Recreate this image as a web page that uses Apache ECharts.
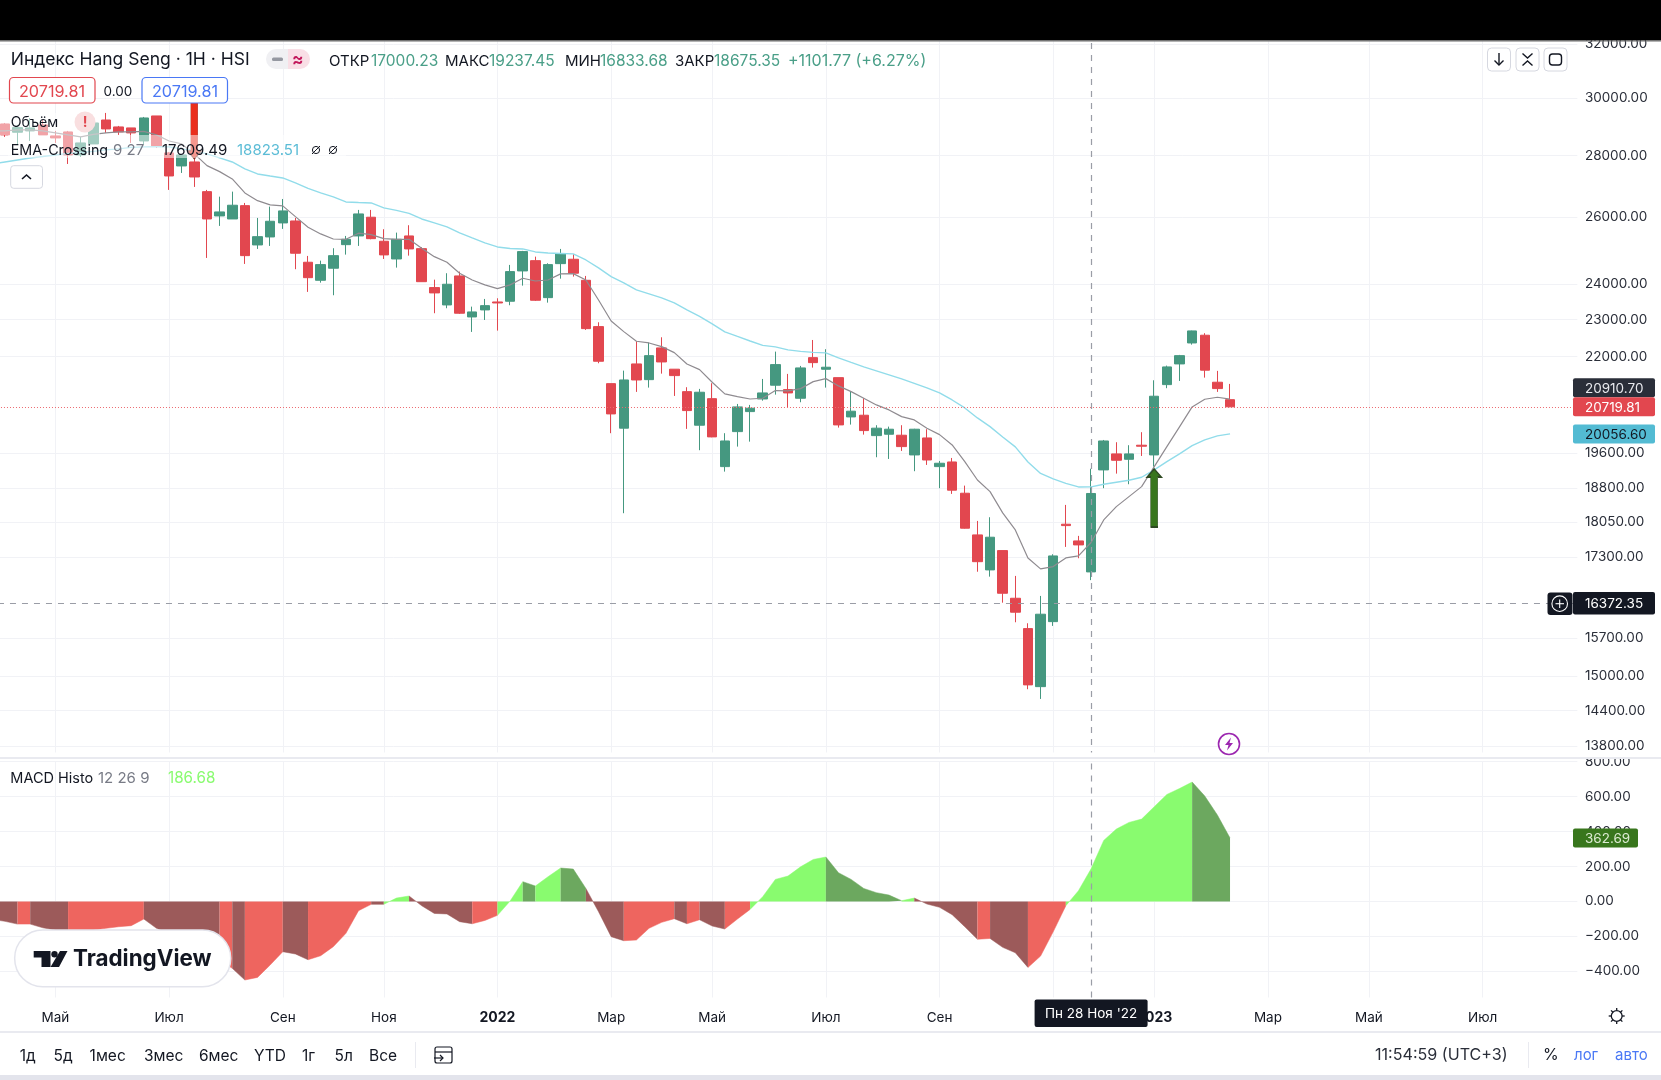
<!DOCTYPE html>
<html>
<head>
<meta charset="utf-8">
<title>Hang Seng</title>
<style>
html, body { margin: 0; padding: 0; background: #fff; }
#myChart { width: 1661px; height: 1080px; }
</style>
<script src="https://cdn.jsdelivr.net/npm/echarts@6/dist/echarts.min.js"></script>
</head>
<body>
<div id="myChart"></div>
<script>
// weekly candles: open, close, low, high (first row sits just off the left edge)
const candles = [
    [29000,28900,28800,29050],[29077,28698,28628,29111],[28790,28949,28355,29043],[28835,28939,28490,29286],
    [29043,28698,28698,29215],[28663,28593,28423,28835],[28800,28017,27716,28835],[28017,28423,27949,28628],
    [28389,29111,28389,29286],[29215,28904,28766,29463],[28973,28800,28698,29008],[28939,28766,28423,28939],
    [28490,29286,28355,29322],[29357,28321,28254,29357],[28085,27320,26867,28118],[27650,28017,27419,28050],
    [27782,27287,26964,27916],[26812,25948,24764,26867],[26042,26168,25733,26651],[25948,26379,25948,26812],
    [26366,24833,24587,26451],[25153,25404,25033,25980],[25395,25877,25123,26335],[25825,26200,25641,26577],
    [25886,24904,24432,25980],[24637,24186,23777,24824],[24110,24567,24042,24684],[24461,24833,23682,25054],
    [25162,25324,24863,25426],[25426,26105,25123,26231],[26002,25343,25324,26231],[25264,24854,24734,25631],
    [24734,25324,24479,25527],[25426,25033,24833,25754],[25042,24070,24070,25084],[23900,23748,23177,24128],
    [23408,23996,23316,24315],[24236,23177,23157,24362],[23074,23213,22664,23361],[23269,23389,22990,23577],
    [23492,23464,22699,23596],[23512,24362,23400,24558],[24382,24953,23956,24974],[24684,23540,23520,24803],
    [23614,24567,23473,24607],[24596,24893,24157,25033],[24725,24315,24217,24875],[24110,22753,22718,24236],
    [22808,21881,21829,22927],[21302,20543,20074,21302],[20195,21396,18239,21637],[21811,21396,21092,22411],
    [21404,22029,21201,22374],[22234,21863,21559,22519],[21674,21508,20990,21674],[21099,20625,20178,21211],
    [20267,21084,19669,21168],[20922,19985,19977,21312],[19286,19888,19171,20074],[20112,20716,19754,20790],
    [20600,20684,19872,20766],[20914,21066,20872,21422],[21262,21793,21023,22135],[21150,21066,20709,21552],
    [20932,21707,20832,21759],[21976,21845,21715,22446],[21673,21725,21201,22199],[21456,20274,20209,21456],
    [20469,20610,20282,21092],[20511,20137,20040,20932],[20016,20195,19504,20267],[20049,20170,19464,20233],
    [20025,19754,19652,20267],[19558,20170,19180,20180],[19960,19440,19325,20170],[19286,19364,18794,19417],
    [19394,18749,18666,19487],[18681,17914,17906,18852],[17771,17210,17004,18071],[17041,17722,16904,18151],
    [17440,16571,16385,17440],[16472,16199,16005,16919],[15884,14848,14771,15986],[14817,16160,14600,16518],
    [16017,17329,15935,17364],[18000,17970,17517,18421],[17643,17559,17281,17750],[17000.23,18675.35,16833.68,19237.45],
    [19210,19888,18794,19912],[19582,19433,19125,19858],[19456,19582,18883,19787],[19787,19763,19534,20098],
    [19558,20983,19286,21388],[21277,21733,21186,21767],[21811,22029,21371,22048],[22366,22691,22321,22699],
    [22574,21648,21456,22629],[21338,21176,21092,21630],[20897,20719.81,20710,21295]
]
const emaFast = [
    28835,28835,28870,28870,28835,28766,28698,28628,28715,28766,28800,28800,28818,28698,28490,28389,28051,27660,
    27462,27222,26771,26523,26388,26357,26020,25693,25487,25333,25324,25509,25466,25343,25324,25324,25054,24803,
    24637,24315,24119,23977,23871,23977,24169,24090,24119,24295,24304,24119,23548,22963,22672,22411,22366,22268,
    22109,21811,21663,21338,21041,20973,20914,20932,21125,21117,21175,21353,21430,21244,21099,20932,20766,20642,
    20477,20395,20195,20040,19794,19401,18980,18717,18246,17878,17287,17062,17109,17287,17329,17609.49,18092,
    18384,18605,18829,19286,19754,20226,20716,20907,20957,20910.7
]
const emaSlow = [
    27716,27782,27848,27916,27966,28017,28068,28102,28136,28186,28220,28271,28288,28298,28288,28220,28152,28051,
    27916,27782,27551,27386,27320,27255,27092,26915,26771,26642,26482,26466,26451,26294,26215,26121,25948,25825,
    25702,25518,25364,25213,25093,25048,25033,24943,24913,24898,24884,24704,24470,24216,24034,23833,23719,23605,
    23464,23269,23088,22881,22664,22541,22419,22300,22260,22181,22141,22114,22101,21968,21850,21733,21630,21526,
    21422,21307,21193,21066,20889,20691,20444,20233,19984,19747,19394,19130,19003,18901,18822,18823.51,18883,18928,
    18973,19042,19210,19401,19582,19777,19912,20009,20056.6
]
const macdHisto = [
    -103,-114,-130,-130,-151,-164,-164,-164,-164,-154,-145,-139,-101,-154,-183,-221,-259,-297,-336,-383,-450,-435,
    -364,-288,-301,-334,-311,-259,-183,-53,-17,-17,19,31,-25,-69,-72,-116,-128,-109,-80,2,113,88,141,191,185,74,-59,
    -202,-225,-221,-154,-120,-99,-128,-105,-141,-158,-101,-46,27,126,145,198,240,254,164,126,74,50,36,4,19,-15,-34,
    -76,-145,-217,-212,-263,-294,-378,-313,-174,-25,61,186.68,349,414,452,471,542,612,646,683,603,494,362.69
]
// phase of each stretch of the histogram and how many weeks it lasts
const macdPhases = ['fallDown','down','fallDown','down','fallDown','down','fallDown','down','fallDown','down','fallDown','up','fallDown','down','up','fallUp','up','fallUp','fallDown','down','fallDown','down','fallDown','down','up','fallUp','up','fallDown','down','fallDown','down','up','fallUp']
const macdLengths = [2,1,3,6,6,1,1,3,2,5,1,2,5,2,2,1,2,2,3,4,1,1,2,2,6,6,1,5,1,3,3,10,3]
const phaseColors = { down: '#ee655f', fallDown: '#9c5a5a', up: '#89fb6f', fallUp: '#6ca85f' }

const priceTicks = [32000,30000,28000,26000,24000,23000,22000,19600,18800,18050,17300,15700,15000,14400,13800]
const macdTicks = [800,600,400,200,0,-200,-400]
const monthIndexes = [5,14,23,31,40,49,57,66,75,84,92,101,109,118]
const monthNames = ['Май','Июл','Сен','Ноя','2022','Мар','Май','Июл','Сен','Ноя','2023','Мар','Май','Июл']

const lastPrice = 20719.81
const crossPrice = 16372.35
const crossIndex = 87
const buyIndex = 92
const buyPrice = 19233
const sellIndex = 16
const sellPrice = 27882

const weeks = []
for(let i = 0; i < 126; i++){
    weeks.push(new Date(Date.UTC(2021, 2, 29 + i * 7)).toISOString().slice(0, 10))
}

const font = 'Inter'
const isMonth = index => monthIndexes.indexOf(index) >= 0
const gridLine = '#f1f2f6'

const myChart = echarts.init(document.getElementById('myChart'))

// one area series per stretch so the colours never join across a gap
let macdSeries = []
let from = 0
macdLengths.forEach((len, k) => {
    const data = macdHisto.map((v, i) => (i >= from && i <= from + len) ? v : null)
    const color = phaseColors[macdPhases[k]]
    macdSeries.push({
        type: 'line',
        xAxisIndex: 1,
        yAxisIndex: 1,
        data: data,
        showSymbol: false,
        connectNulls: false,
        lineStyle: { color: color, width: 0.5 },
        areaStyle: { color: color, opacity: 1, origin: 0 },
        silent: true,
        z: 2
    })
    from += len
})

const dashed = { color: '#9a9da6', type: [6, 6], width: 1.2 }

const option = {
    animation: false,
    backgroundColor: '#fff',
    textStyle: { fontFamily: font },
    grid: [
        { left: -14.03, right: 83.65, top: 41, height: 716, outerBoundsMode: 'none' },
        { left: -14.03, right: 83.65, top: 761.6, height: 235.9, outerBoundsMode: 'none' }
    ],
    xAxis: [0, 1].map(i => ({
        type: 'category',
        gridIndex: i,
        data: weeks,
        boundaryGap: true,
        axisLine: { show: false },
        axisTick: { show: false, alignWithLabel: true },
        splitLine: { show: true, alignWithLabel: true, interval: index => isMonth(index), lineStyle: { color: gridLine, width: 1 } },
        axisLabel: {
            show: i === 1,
            interval: index => isMonth(index),
            margin: 13,
            hideOverlap: false,
            color: '#131722',
            fontSize: 13.5,
            fontFamily: font,
            formatter: (value, index) => {
                const name = monthNames[monthIndexes.indexOf(index)]
                return /^\d/.test(name) ? `{year|${name}}` : name
            },
            rich: { year: { fontWeight: 'bold', fontSize: 14, fontFamily: font, color: '#131722' } }
        }
    })),
    yAxis: [
        {
            type: 'log',
            gridIndex: 0,
            position: 'right',
            min: 13619,
            max: 32115,
            axisLine: { show: false },
            axisTick: { show: false, customValues: priceTicks },
            splitLine: { show: true, lineStyle: { color: gridLine, width: 1 } },
            axisLabel: {
                customValues: priceTicks,
                margin: 7.65,
                padding: [6, 0, 0, 0],
                color: '#2a2e39',
                fontSize: 13.5,
                fontFamily: font,
                formatter: value => Number(value).toFixed(2)
            }
        },
        {
            type: 'value',
            gridIndex: 1,
            position: 'right',
            min: -550,
            max: 800,
            axisLine: { show: false },
            axisTick: { show: false, customValues: macdTicks },
            splitLine: { show: true, lineStyle: { color: gridLine, width: 1 } },
            axisLabel: {
                customValues: macdTicks,
                margin: 7.65,
                padding: [6, 0, 0, 0],
                color: '#2a2e39',
                fontSize: 13.5,
                fontFamily: font,
                formatter: value => Number(value).toFixed(2).replace('-', '\u2212')
            }
        }
    ],
    series: [
        {
            type: 'candlestick',
            xAxisIndex: 0,
            yAxisIndex: 0,
            data: candles,
            barWidth: 10,
            itemStyle: { color: '#459880', color0: '#e2474f', borderColor: '#459880', borderColor0: '#e2474f', borderWidth: 1 },
            silent: true,
            z: 2,
            markLine: {
                silent: true,
                symbol: 'none',
                animation: false,
                label: { show: false },
                data: [
                    { yAxis: lastPrice, lineStyle: { color: '#ec6a70', type: [1, 2], width: 1 } },
                    { yAxis: crossPrice, lineStyle: dashed },
                    { xAxis: weeks[crossIndex], lineStyle: dashed }
                ]
            },
            markPoint: {
                silent: true,
                animation: false,
                label: { show: false },
                data: [
                    {
                        coord: [weeks[buyIndex], buyPrice],
                        symbol: 'path://M7 0 L14 8 L10.5 8 L10.5 58 L3.5 58 L3.5 8 L0 8 Z',
                        symbolSize: [14, 58],
                        symbolOffset: [0, '50%'],
                        itemStyle: { color: '#38761d', borderColor: '#2e4a22', borderWidth: 1 }
                    },
                    {
                        coord: [weeks[sellIndex], sellPrice],
                        symbol: 'path://M3.5 0 L10.5 0 L10.5 58 L14 58 L7 66 L0 58 L3.5 58 Z',
                        symbolSize: [14, 66],
                        symbolOffset: [0, '-50%'],
                        itemStyle: { color: '#ea2e1c', borderColor: '#7a3326', borderWidth: 0.6 }
                    }
                ]
            }
        },
        {
            type: 'line',
            xAxisIndex: 0,
            yAxisIndex: 0,
            data: emaFast,
            showSymbol: false,
            lineStyle: { color: '#8f8b90', width: 1.2 },
            silent: true,
            z: 3
        },
        {
            type: 'line',
            xAxisIndex: 0,
            yAxisIndex: 0,
            data: emaSlow,
            showSymbol: false,
            lineStyle: { color: '#91dcea', width: 1.4 },
            silent: true,
            z: 3
        },
        ...macdSeries,
        {
            type: 'line',
            xAxisIndex: 1,
            yAxisIndex: 1,
            data: [],
            silent: true,
            z: 3,
            markLine: {
                silent: true,
                symbol: 'none',
                animation: false,
                label: { show: false },
                data: [{ xAxis: weeks[crossIndex], lineStyle: dashed }]
            }
        }
    ]
}

myChart.setOption(option)

// chart chrome around the plot
const TOP = 100
function rect(x, y, w, h, fill, extra){
    return Object.assign({
        type: 'rect', silent: true, z: TOP,
        shape: { x, y, width: w, height: h, r: (extra && extra.r) || 0 },
        style: { fill, stroke: (extra && extra.stroke) || null, lineWidth: (extra && extra.lw) || 1 }
    }, extra && extra.z ? { z: extra.z } : {})
}
function text(x, y, str, color, size, extra){
    return {
        type: 'text', silent: true, z: TOP + 2, x, y: y + 1.2,
        style: Object.assign({
            text: str, fill: color, fontSize: size || 15.5, fontFamily: font,
            verticalAlign: 'middle', align: 'left'
        }, extra || {})
    }
}
function poly(points, stroke, width){
    return { type: 'polyline', silent: true, z: TOP + 2, shape: { points }, style: { stroke, fill: null, lineWidth: width || 1.4 } }
}
function fill(points, color){
    return { type: 'polygon', silent: true, z: TOP + 2, shape: { points }, style: { fill: color } }
}
function circle(cx, cy, r, fillColor, stroke, width){
    return { type: 'circle', silent: true, z: TOP + 1, shape: { cx, cy, r }, style: { fill: fillColor, stroke: stroke || null, lineWidth: width || 1 } }
}

const dark = '#131722'
const green = '#4a9f88'
const yOf = v => myChart.convertToPixel({ yAxisIndex: 0 }, v)
const yMacd = v => myChart.convertToPixel({ yAxisIndex: 1 }, v)
const xCross = myChart.convertToPixel({ xAxisIndex: 0 }, weeks[crossIndex])

const els = [
    // fade under the legend rows
    rect(0, 113, 100, 22, 'rgba(255,255,255,0.5)'),
    rect(8, 135, 338, 23, 'rgba(255,255,255,0.5)'),
    // separators and bands
    rect(0, 752.5, 1661, 5, '#fff'),
    rect(0, 757, 1661, 2, '#e9eaf0'),
    rect(0, 1031, 1661, 2, '#e9eaf0'),
    rect(0, 1075, 1661, 5, '#e3e4ec'),
    rect(0, 0, 1661, 40.5, '#000'),
    rect(0, 40.5, 1661, 1, '#6a6a6a'),

    text(10.7, 59, 'Индекс Hang Seng · 1H · HSI', dark, 17.5),
    rect(266, 49, 22, 20, '#f0f0f3', { r: [10, 0, 0, 10] }),
    rect(288, 49, 22, 20, '#f9dfe6', { r: [0, 10, 10, 0] }),
    rect(272, 57.5, 11, 3.5, '#9598a1', { r: 1.5 }),
    text(292, 59, '≈', '#c2185b', 17, { fontWeight: 'bold' }),

    text(329, 60, 'ОТКР', dark, 15),
    text(371, 60, '17000.23', green, 15.5),
    text(445, 60, 'МАКС', dark, 15),
    text(489, 60, '19237.45', green, 15.5),
    text(565, 60, 'МИН', dark, 15),
    text(600, 60, '16833.68', green, 15.5),
    text(675, 60, 'ЗАКР', dark, 15),
    text(714, 60, '18675.35', green, 15.5),
    text(788, 60, '+1101.77 (+6.27%)', green, 16),

    rect(9.5, 77.5, 85.5, 25.5, '#fff', { r: 4, stroke: '#e2474f', lw: 1.2 }),
    text(52, 91, '20719.81', '#e2474f', 16.2, { align: 'center' }),
    text(118, 91, '0.00', dark, 13.5, { align: 'center' }),
    rect(142, 77.5, 85.5, 25.5, '#fff', { r: 4, stroke: '#4a78f5', lw: 1.2 }),
    text(185, 91, '20719.81', '#4a78f5', 16.2, { align: 'center' }),

    text(10.7, 122, 'Объём', dark, 14.2),
    circle(85, 122, 10.5, '#f9dfe0'),
    text(85, 122, '!', '#e2474f', 14, { align: 'center', fontWeight: 'bold' }),

    text(10.7, 149, 'EMA-Crossing', dark, 14.3),
    text(113, 149, '9 27', '#787b86', 15),
    text(162, 149, '17609.49', dark, 15),
    text(237, 149, '18823.51', '#5bbcd6', 15),
    circle(316, 150, 3.6, null, dark, 1),
    poly([[312, 154], [320, 146]], dark, 1),
    circle(333, 150, 3.6, null, dark, 1),
    poly([[329, 154], [337, 146]], dark, 1),
    rect(10.7, 165.7, 31.8, 22.6, '#fff', { r: 3, stroke: '#d6d8e0' }),
    poly([[22, 179], [26.5, 175], [31, 179]], dark, 1.6),

    text(10.3, 777, 'MACD Histo', dark, 14.5),
    text(98, 777, '12 26 9', '#787b86', 15),
    text(168, 777, '186.68', '#89fb6f', 15.2),

    // logo
    rect(14.7, 930, 216, 56.7, '#fff', { r: 28, stroke: '#e3e4ec', lw: 1.5 }),
    fill([[33.7, 951], [50.5, 951], [50.5, 967], [41.5, 967], [41.5, 957.5], [33.7, 957.5]], dark),
    circle(54.5, 954.2, 3.2, dark),
    fill([[60, 951], [67.5, 951], [59, 967], [50.5, 967]], dark),
    text(73, 958, 'TradingView', dark, 22.4, { fontWeight: 700 }),

    // top right buttons
    rect(1487.5, 48, 23, 23, '#fff', { r: 4, stroke: '#d6d8e0' }),
    poly([[1499, 53], [1499, 65]], dark),
    poly([[1494.5, 60.5], [1499, 65], [1503.5, 60.5]], dark),
    rect(1516, 48, 23, 23, '#fff', { r: 4, stroke: '#d6d8e0' }),
    poly([[1522.5, 53.5], [1527.5, 58], [1532.5, 53.5]], dark),
    poly([[1522.5, 65.5], [1527.5, 61], [1532.5, 65.5]], dark),
    rect(1544, 48, 23, 23, '#fff', { r: 4, stroke: '#d6d8e0' }),
    rect(1549.5, 54, 12, 11, 'none', { r: 3, stroke: dark, lw: 1.4, z: TOP + 2 }),

    // lightning mark
    circle(1229, 744, 10.5, '#fff', '#9c27b0', 1.6),
    fill([[1231, 737.5], [1225, 745], [1228.5, 745], [1227, 750.5], [1233, 743], [1229.5, 743]], '#9c27b0'),

    // crosshair price
    rect(1547.5, 592.5, 25, 22.5, dark, { r: 3 }),
    circle(1559.7, 603.7, 7.8, null, '#fff', 1.1),
    poly([[1555.5, 603.7], [1564, 603.7]], '#fff', 1.1),
    poly([[1559.7, 599.5], [1559.7, 608]], '#fff', 1.1),

    // crosshair date
    rect(xCross - 56.5, 999.5, 113, 27.5, dark, { r: 2 }),
    text(xCross, 1013, "Пн 28 Ноя '22", '#fff', 13.5, { align: 'center' }),

    // gear
    circle(1616.7, 1016, 5.4, null, dark, 1.3),

    // range bar
    text(19.8, 1055, '1д', dark),
    text(53.5, 1055, '5д', dark),
    text(89.6, 1055, '1мес', dark),
    text(144, 1055, '3мес', dark),
    text(199, 1055, '6мес', dark),
    text(254, 1055, 'YTD', dark),
    text(302, 1055, '1г', dark),
    text(334.6, 1055, '5л', dark),
    text(369, 1055, 'Все', dark),
    rect(415, 1042, 1, 26, '#e9eaf0'),
    rect(435, 1047, 17, 16, 'none', { r: 2, stroke: dark, lw: 1.2, z: TOP + 2 }),
    poly([[435, 1052], [452, 1052]], dark, 1.2),
    poly([[434, 1058], [443, 1058]], dark, 1.2),
    poly([[440, 1055], [443, 1058], [440, 1061]], dark, 1.2),
    text(1375, 1054, '11:54:59 (UTC+3)', '#2a2e39', 16.1),
    rect(1528, 1042, 1, 26, '#e9eaf0'),
    text(1543, 1054, '%', dark, 16),
    text(1574, 1054, 'лог', '#4a78f5', 15),
    text(1615, 1054, 'авто', '#4a78f5', 15)
]

for(let a = 0; a < 8; a++){
    const t = a * Math.PI / 4
    els.push(poly([
        [1616.7 + 5.4 * Math.cos(t), 1016 + 5.4 * Math.sin(t)],
        [1616.7 + 8 * Math.cos(t), 1016 + 8 * Math.sin(t)]
    ], dark, 1.3))
}

// price tags on the right scale
function tag(y, label, bg, color, width, height){
    const h = height || 19
    els.push(rect(1573, y - h / 2, width || 82, h, bg, { r: 2 }))
    els.push(text(1585, y - 0.5, label, color, 13.5))
}
const redY = yOf(lastPrice)
tag(redY - 19, '20910.70', '#2a2e39', '#e8e9ee')
tag(redY, '20719.81', '#e2474f', '#fff')
tag(yOf(20056.6), '20056.60', '#53bbd3', dark)
tag(yOf(crossPrice), '16372.35', dark, '#fff', 82, 22.5)
tag(yMacd(362.69), '362.69', '#38761d', '#dcebd2', 65)

myChart.setOption({ graphic: { elements: els } })

window.addEventListener('resize', () => {
    myChart.resize()
})
</script>
</body>
</html>
